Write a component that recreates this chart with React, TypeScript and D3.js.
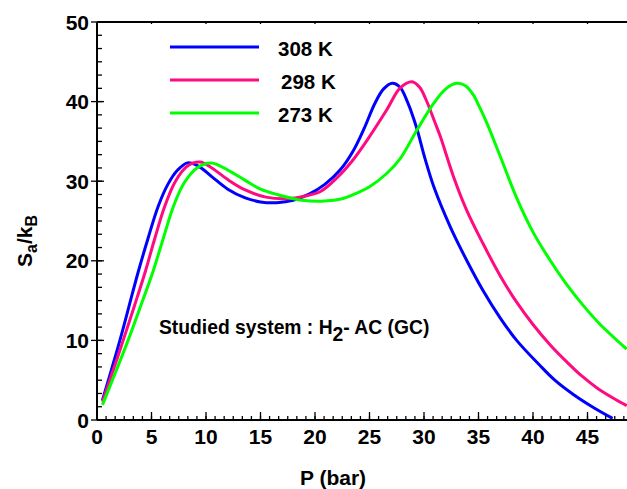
import React from 'react';
import * as d3 from 'd3';

// values
const p308 = [0.5, 1.3, 2.1, 2.9, 3.76, 4.7, 5.6, 6.5, 7.4, 8.3, 9.3, 10.5, 12, 13.6, 15, 16.5, 18, 19.5, 20.9, 22.3, 23.5, 24.5, 25.5, 26.3, 27.1, 27.8, 28.5, 29.3, 30.1, 30.9, 32.4, 33.9, 35.4, 37, 38.5, 40.6, 42, 43.7, 45.5, 47.3];
const s308 = [2.5, 6.2, 10, 14.1, 18.5, 22.9, 26.8, 29.6, 31.4, 32.3, 31.9, 30.6, 29.0, 27.9, 27.4, 27.3, 27.6, 28.4, 29.6, 31.4, 33.8, 36.6, 39.8, 41.6, 42.3, 41.8, 39.9, 36.8, 32.8, 29.3, 24.3, 20.1, 16.3, 12.8, 10.0, 6.9, 5.0, 3.2, 1.6, 0.2];

const p298 = [0.5, 1.5, 2.4, 3.4, 4.4, 5.3, 6.2, 7.2, 8.3, 9.45, 10.5, 12, 13.6, 15.5, 17.5, 19, 20.5, 22, 23.5, 25, 26.6, 27.8, 28.9, 29.6, 30.2, 31, 31.5, 32.7, 33.9, 35.4, 37, 38.5, 40, 41.6, 43.1, 44.5, 46, 47.3, 48.6];
const s298 = [2.3, 6.3, 10, 14.2, 18.5, 22.8, 26.8, 30, 31.9, 32.4, 31.7, 30.2, 28.9, 28, 27.8, 28.1, 28.7, 30.4, 32.7, 35.6, 39, 41.7, 42.5, 41.8, 40.2, 37.4, 35.6, 30.6, 26.4, 22.2, 18.1, 14.8, 12, 9.4, 7.3, 5.5, 3.9, 2.8, 1.8];

const p273 = [0.5, 1.7, 2.85, 4, 5.1, 6.1, 7, 8, 9.2, 10.5, 12, 13.6, 15, 16.6, 18.8, 20.9, 22.5, 23.5, 25, 26.6, 27.8, 29.3, 30.9, 32, 33, 33.8, 34.5, 35.1, 35.8, 37, 38.5, 40, 41.6, 43.1, 44.6, 46.1, 48.6];
const s273 = [1.9, 6, 10, 14.3, 18.5, 22.9, 26.8, 29.8, 31.7, 32.3, 31.4, 30.1, 29, 28.3, 27.6, 27.5, 27.8, 28.3, 29.3, 31, 32.8, 36.3, 39.8, 41.6, 42.3, 42, 40.9, 39.3, 37.2, 33.1, 27.9, 23.6, 20.0, 17.0, 14.4, 12.1, 8.9];

const seriesNames = ['308 K', '298 K', '273 K'];
const seriesColors = ['#0000ff', '#ff0a80', '#00ff00'];
const xTicks = [0, 5, 10, 15, 20, 25, 30, 35, 40, 45];
const yTicks = [0, 10, 20, 30, 40, 50];

const W = 627;
const H = 489;
const font = 'Liberation Sans, Arial, sans-serif';

export default function App() {
  const x = d3.scaleLinear().domain([0, 50]).range([97, 642]);
  const y = d3.scaleLinear().domain([0, 50]).range([420, 22]);

  const series = [
    d3.zip(p308, s308),
    d3.zip(p298, s298),
    d3.zip(p273, s273),
  ];
  const line = d3
    .line<number[]>()
    .x(d => x(d[0]))
    .y(d => y(d[1]))
    .curve(d3.curveCatmullRom.alpha(0.5));

  const xMinor = d3.range(0, 61).map(i => (i * 5) / 6).filter(v => v <= 50);
  const yMinor = d3.range(0, 31).map(i => (i * 10) / 6);

  return (
    <svg
      width={W}
      height={H}
      style={{ position: 'absolute', left: 0, top: 0, background: '#fff' }}
      fontFamily={font}
      fontWeight="bold"
    >
      <defs>
        <clipPath id="plot">
          <rect x={x(0)} y={y(50)} width={W - x(0)} height={y(0) - y(50)} />
        </clipPath>
      </defs>

      {/* curves */}
      <g clipPath="url(#plot)">
        {series.map((s, i) => (
          <path key={i} d={line(s) || ''} fill="none" stroke={seriesColors[i]} strokeWidth={3} />
        ))}
      </g>

      {/* axes frame */}
      <g stroke="#000" strokeWidth={2} fill="none">
        <line x1={x(0)} x2={W} y1={y(0)} y2={y(0)} />
        <line x1={x(0)} x2={x(0)} y1={y(0)} y2={y(50)} />
        <line x1={x(0)} x2={W} y1={y(50)} y2={y(50)} />
      </g>
      <g stroke="#000" strokeWidth={1.3}>
        {xMinor.map((v, i) => (
          <line key={'xm' + i} x1={x(v)} x2={x(v)} y1={y(0)} y2={y(0) - 4} />
        ))}
        {xTicks.map(v => (
          <line key={'xt' + v} x1={x(v)} x2={x(v)} y1={y(0)} y2={y(0) - 8} />
        ))}
        {xTicks.map(v => (
          <line key={'xtt' + v} x1={x(v)} x2={x(v)} y1={y(50)} y2={y(50) + 2} />
        ))}
        {yMinor.map((v, i) => (
          <line key={'ym' + i} x1={x(0)} x2={x(0) + 5} y1={y(v)} y2={y(v)} />
        ))}
        {yTicks.map(v => (
          <line key={'yt' + v} x1={x(0) - 6} x2={x(0) + 7} y1={y(v)} y2={y(v)} />
        ))}
      </g>

      {/* tick labels */}
      <g fontSize={21} fill="#000">
        {xTicks.map(v => (
          <text key={'xl' + v} x={x(v)} y={444} textAnchor="middle">
            {v}
          </text>
        ))}
        {yTicks.map(v => (
          <text key={'yl' + v} x={x(0) - 8} y={y(v) + 7.5} textAnchor="end">
            {v}
          </text>
        ))}
      </g>

      {/* axis titles */}
      <text x={333} y={485} fontSize={21} textAnchor="middle">
        P (bar)
      </text>
      <text transform="translate(32,241) rotate(-90)" fontSize={21} textAnchor="middle">
        S<tspan fontSize={16} dy={5}>a</tspan>
        <tspan dy={-5}>/k</tspan>
        <tspan fontSize={16} dy={5}>B</tspan>
      </text>

      {/* legend */}
      {seriesNames.map((n, i) => (
        <g key={n}>
          <line x1={170} x2={259} y1={47 + i * 33} y2={47 + i * 33} stroke={seriesColors[i]} strokeWidth={3} />
          <text x={i === 1 ? 281 : 278} y={56 + i * 33} fontSize={20.5}>
            {n}
          </text>
        </g>
      ))}

      {/* annotation */}
      <text x={159} y={334} fontSize={19.3}>
        Studied system : H<tspan dy={7}>2</tspan>
        <tspan dy={-7}>- AC (GC)</tspan>
      </text>
    </svg>
  );
}
